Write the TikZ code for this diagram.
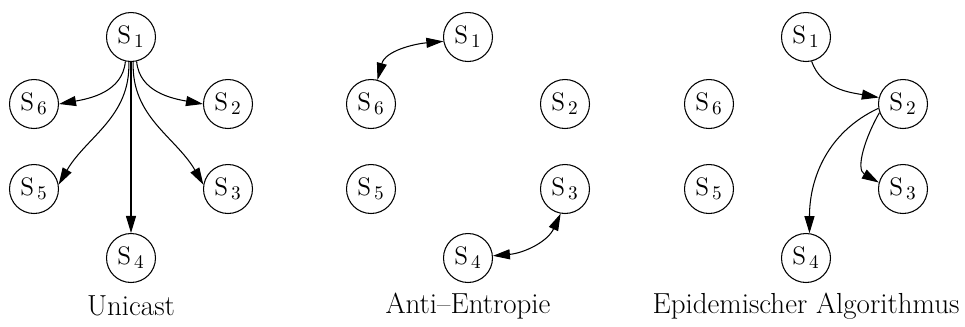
\documentclass[tikz,border=0pt]{standalone}
\usetikzlibrary{arrows.meta}
\begin{document}
\begin{tikzpicture}[x=0.02cm,y=0.02cm]
    \tikzset{srv/.style={circle,draw,line width=0.6pt,minimum size=0.98cm,inner sep=0pt,font=\fontsize{15}{18}\selectfont},
      pf/.style={-{Triangle[length=0.34cm,width=0.2cm]},line width=0.6pt},
      pfb/.style={{Triangle[length=0.34cm,width=0.2cm]}-{Triangle[length=0.34cm,width=0.2cm]},line width=0.6pt},
      lbl/.style={font=\fontsize{16.5}{19}\selectfont}}
    \useasboundingbox (0,0) rectangle (965,326);
    % Unicast
    \node[srv] (u1) at (131,289) {$\mathrm{S}_{\,1}$};
    \node[srv] (u2) at (228,222) {$\mathrm{S}_{\,2}$};
    \node[srv] (u3) at (228,137) {$\mathrm{S}_{\,3}$};
    \node[srv] (u4) at (131,68) {$\mathrm{S}_{\,4}$};
    \node[srv] (u5) at (34,137) {$\mathrm{S}_{\,5}$};
    \node[srv] (u6) at (34,222) {$\mathrm{S}_{\,6}$};
    \node[lbl] (ul) at (131,20) {Unicast};
    \draw[pf] (u1.-103) to[out=-95,in=10] (u6.east);
    \draw[pf] (u1.-95) to[out=-88,in=60] (u5.10);
    \draw[pf] (u1.south) -- (u4.north);
    \draw[pf] (u1.-85) to[out=-92,in=120] (u3.170);
    \draw[pf] (u1.-77) to[out=-85,in=170] (u2.west);
    % Anti-Entropie
    \node[srv] (a1) at (468,289) {$\mathrm{S}_{\,1}$};
    \node[srv] (a2) at (565,222) {$\mathrm{S}_{\,2}$};
    \node[srv] (a3) at (565,137) {$\mathrm{S}_{\,3}$};
    \node[srv] (a4) at (468,68) {$\mathrm{S}_{\,4}$};
    \node[srv] (a5) at (371,137) {$\mathrm{S}_{\,5}$};
    \node[srv] (a6) at (371,222) {$\mathrm{S}_{\,6}$};
    \node[lbl] (al) at (468,20) {Anti--Entropie};
    \draw[pfb] (a6.75) to[out=75,in=185] (a1.190);
    \draw[pfb] (a4.5) to[out=5,in=-115] (a3.-100);
    % Epidemisch
    \node[srv] (e1) at (806,289) {$\mathrm{S}_{\,1}$};
    \node[srv] (e2) at (903,222) {$\mathrm{S}_{\,2}$};
    \node[srv] (e3) at (903,137) {$\mathrm{S}_{\,3}$};
    \node[srv] (e4) at (806,68) {$\mathrm{S}_{\,4}$};
    \node[srv] (e5) at (709,137) {$\mathrm{S}_{\,5}$};
    \node[srv] (e6) at (709,222) {$\mathrm{S}_{\,6}$};
    \node[lbl] (el) at (806,20) {Epidemischer Algorithmus};
    \draw[pf] (e1.-77) to[out=-70,in=170] (e2.165);
    \draw[pf] (e2.200) to[out=240,in=150] (e3.165);
    \draw[pf] (e2.190) to[out=205,in=90] (e4.82);
  \end{tikzpicture}
\end{document}
